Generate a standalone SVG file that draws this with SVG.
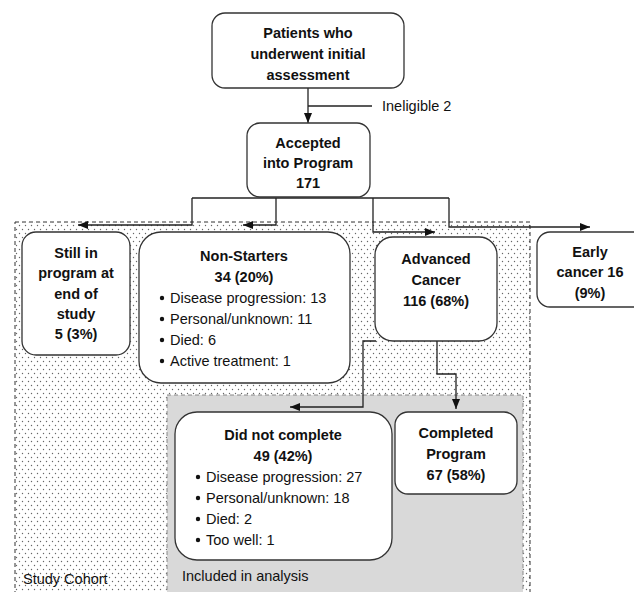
<svg xmlns="http://www.w3.org/2000/svg" width="634" height="592" viewBox="0 0 634 592">
<defs>
<pattern id="dots" width="6" height="8" patternUnits="userSpaceOnUse">
<rect width="6" height="8" fill="#ffffff"/>
<circle cx="1.5" cy="1.5" r="0.7" fill="#666"/>
<circle cx="4.5" cy="5.5" r="0.7" fill="#666"/>
</pattern>
<marker id="ah" viewBox="0 0 10 10" refX="10" refY="5" markerWidth="10" markerHeight="10" markerUnits="userSpaceOnUse" orient="auto">
<path d="M0,1 L10,5 L0,9 Z" fill="#111"/>
</marker>
<style>
.box{fill:#fff;stroke:#333;stroke-width:1.3}
.t{font-family:"Liberation Sans",Arial,sans-serif;font-size:14.5px;fill:#111}
.b{font-weight:bold;text-anchor:middle}
.c{fill:none;stroke:#222;stroke-width:1.3}
</style>
</defs>
<rect width="634" height="592" fill="#fff"/>
<g id="study-cohort">
<rect x="15" y="222" width="515" height="375" fill="url(#dots)" stroke="#333" stroke-width="1" stroke-dasharray="4,3"/>
<text class="t" x="23" y="584">Study Cohort</text>
</g>
<g id="included">
<rect x="167" y="395" width="356" height="200" fill="#d9d9d9" stroke="#888" stroke-width="1" stroke-dasharray="4,3"/>
<text class="t" x="182" y="581">Included in analysis</text>
</g>
<g id="connectors">
<path class="c" d="M308,88 V123" marker-end="url(#ah)"/>
<path class="c" d="M308,106 H372"/>
<path class="c" d="M192,198 H449"/>
<path class="c" d="M192,198 V225 H78" marker-end="url(#ah)"/>
<path class="c" d="M276,198 V225 H243" marker-end="url(#ah)"/>
<path class="c" d="M373,198 V232 H435" marker-end="url(#ah)"/>
<path class="c" d="M449,198 V227 H590" marker-end="url(#ah)"/>
<path class="c" d="M376,341 H363 V407 H290" marker-end="url(#ah)"/>
<path class="c" d="M437,341 V374 H456 V409" marker-end="url(#ah)"/>
</g>
<g id="initial">
<rect class="box" x="212" y="13" width="192" height="75" rx="13"/>
<text class="t b" x="308" y="38">Patients who</text>
<text class="t b" x="308" y="59">underwent initial</text>
<text class="t b" x="308" y="80">assessment</text>
</g>
<g id="ineligible">
<text class="t" x="382" y="111">Ineligible 2</text>
</g>
<g id="accepted">
<rect class="box" x="247" y="123" width="123" height="74" rx="13"/>
<text class="t b" x="308" y="148">Accepted</text>
<text class="t b" x="308" y="168">into Program</text>
<text class="t b" x="308" y="188">171</text>
</g>
<g id="still">
<rect class="box" x="22" y="232" width="108" height="123" rx="14"/>
<text class="t b" x="76" y="258">Still in</text>
<text class="t b" x="76" y="278">program at</text>
<text class="t b" x="76" y="299">end of</text>
<text class="t b" x="76" y="319">study</text>
<text class="t b" x="76" y="339">5 (3%)</text>
</g>
<g id="nonstarters">
<rect class="box" x="139" y="232" width="211" height="151" rx="22"/>
<text class="t b" x="244" y="261">Non-Starters</text>
<text class="t b" x="244" y="282">34 (20%)</text>
<circle cx="162" cy="298" r="2.2" fill="#111"/><text class="t" x="170" y="303">Disease progression: 13</text>
<circle cx="162" cy="319" r="2.2" fill="#111"/><text class="t" x="170" y="324">Personal/unknown: 11</text>
<circle cx="162" cy="340" r="2.2" fill="#111"/><text class="t" x="170" y="345">Died: 6</text>
<circle cx="162" cy="361" r="2.2" fill="#111"/><text class="t" x="170" y="366">Active treatment: 1</text>
</g>
<g id="advanced">
<rect class="box" x="375" y="237" width="122" height="104" rx="18"/>
<text class="t b" x="436" y="264">Advanced</text>
<text class="t b" x="436" y="285">Cancer</text>
<text class="t b" x="436" y="306">116 (68%)</text>
</g>
<g id="early">
<rect class="box" x="537" y="232" width="110" height="75" rx="13"/>
<text class="t b" x="590" y="257">Early</text>
<text class="t b" x="590" y="277">cancer 16</text>
<text class="t b" x="590" y="298">(9%)</text>
</g>
<g id="didnot">
<rect class="box" x="175" y="412" width="217" height="148" rx="22"/>
<text class="t b" x="283" y="440">Did not complete</text>
<text class="t b" x="283" y="461">49 (42%)</text>
<circle cx="198" cy="477" r="2.2" fill="#111"/><text class="t" x="206" y="482">Disease progression: 27</text>
<circle cx="198" cy="498" r="2.2" fill="#111"/><text class="t" x="206" y="503">Personal/unknown: 18</text>
<circle cx="198" cy="519" r="2.2" fill="#111"/><text class="t" x="206" y="524">Died: 2</text>
<circle cx="198" cy="540" r="2.2" fill="#111"/><text class="t" x="206" y="545">Too well: 1</text>
</g>
<g id="completed">
<rect class="box" x="395" y="412" width="122" height="82" rx="13"/>
<text class="t b" x="456" y="438">Completed</text>
<text class="t b" x="456" y="459">Program</text>
<text class="t b" x="456" y="480">67 (58%)</text>
</g>
</svg>
